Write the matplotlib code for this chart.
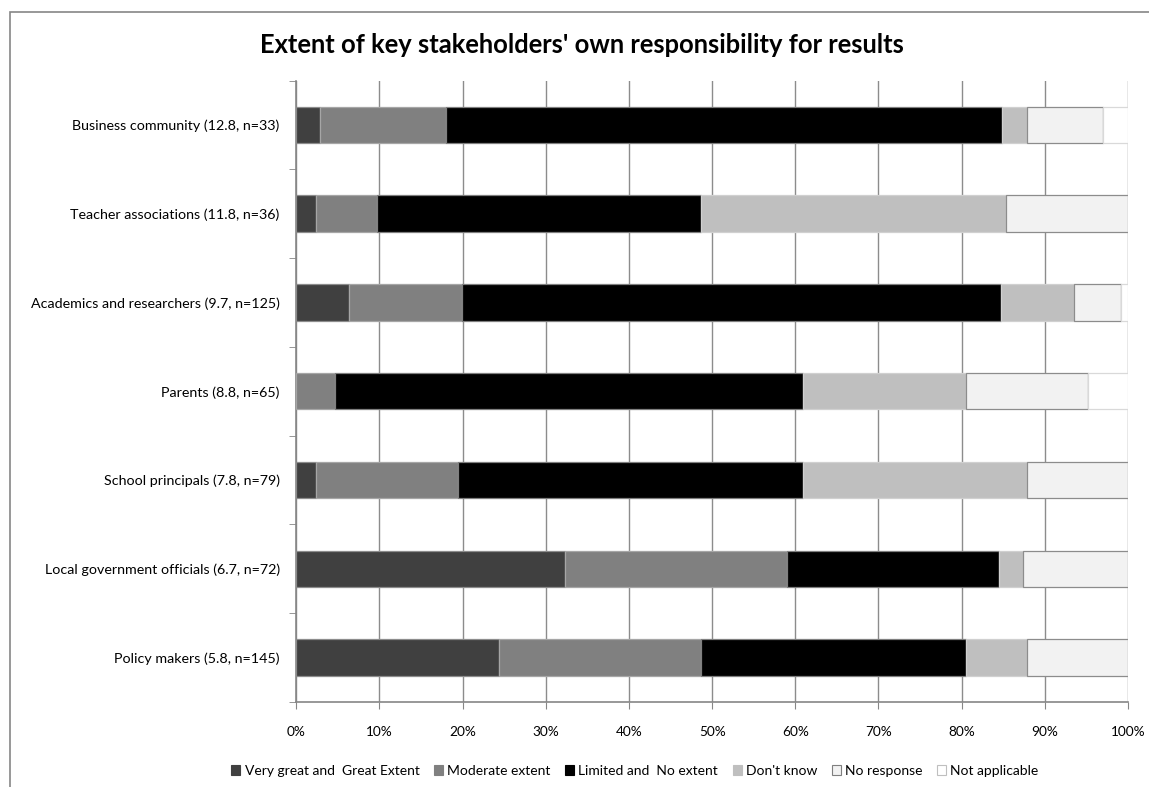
import matplotlib
matplotlib.use("Agg")
import matplotlib.pyplot as plt
from matplotlib.patches import Rectangle, Patch
import numpy as np

plt.rcParams['font.family'] = ['Lato', 'DejaVu Sans']

categories = [
    "Business community (12.8, n=33)",
    "Teacher associations (11.8, n=36)",
    "Academics and researchers (9.7, n=125)",
    "Parents (8.8, n=65)",
    "School principals (7.8, n=79)",
    "Local government officials (6.7, n=72)",
    "Policy makers (5.8, n=145)",
]
series_names = ["Very great and  Great Extent", "Moderate extent", "Limited and  No extent",
                "Don't know", "No response", "Not applicable"]
very_great = [2.9, 2.4, 6.3, 0.0, 2.4, 32.3, 24.4]
moderate = [15.1, 7.3, 13.6, 4.7, 17.0, 26.7, 24.3]
limited = [66.8, 39.0, 64.8, 56.2, 41.5, 25.5, 31.8]
dont_know = [3.1, 36.6, 8.8, 19.6, 26.9, 2.9, 7.3]
no_response = [9.1, 14.7, 5.7, 14.7, 12.2, 12.6, 12.2]
not_applicable = [3.0, 0.0, 0.8, 4.8, 0.0, 0.0, 0.0]
xtick_labels = ["0%", "10%", "20%", "30%", "40%", "50%", "60%", "70%", "80%", "90%", "100%"]

series = [very_great, moderate, limited, dont_know, no_response, not_applicable]
facecolors = ["#404040", "#808080", "#000000", "#BFBFBF", "#F2F2F2", "#FFFFFF"]
edgecolors = ["#8C8C8C", "#A6A6A6", "#7F7F7F", "#D0D0D0", "#8C8C8C", "#D9D9D9"]

W, H = 1149, 787
fig = plt.figure(figsize=(W / 100, H / 100), dpi=100)
ax = fig.add_axes([296.3 / W, 1 - 702 / H, (1128 - 296.3) / W, (702 - 80.5) / H])

# outer chart border
fig.patches.append(Rectangle((10 / W, -0.1), 1.2, 1.1 - 12 / H, transform=fig.transFigure,
                             fill=False, edgecolor="#868686", linewidth=1.2, zorder=0))

y = np.arange(len(categories))
left = np.zeros(len(categories))
for vals, fc, ec, name in zip(series, facecolors, edgecolors, series_names):
    v = np.array(vals)
    ax.barh(y, v, left=left, height=0.41, color=fc, edgecolor=ec, linewidth=0.9, label=name, zorder=3)
    left += v

ax.set_xlim(0, 100)
ax.set_ylim(len(categories) - 0.5, -0.5)
ax.set_xticks(np.arange(0, 101, 10))
ax.set_xticklabels(xtick_labels, fontsize=9.8)
ax.set_yticks(y)
ax.set_yticklabels(categories, fontsize=10.3)
ax.set_yticks(np.arange(-0.5, len(categories), 1), minor=True)
ax.tick_params(axis='y', which='major', length=0, pad=12)
ax.tick_params(axis='y', which='minor', length=5, color="#868686", direction='out')
ax.tick_params(axis='x', length=5, color="#868686", direction='out', pad=12)
ax.xaxis.grid(True, color="#8C8C8C", linewidth=1.0, zorder=0)
ax.set_axisbelow(True)
for s in ["top", "right"]:
    ax.spines[s].set_visible(False)
for s in ["left", "bottom"]:
    ax.spines[s].set_color("#868686")
    ax.spines[s].set_linewidth(1.2)

fig.text(581.5 / W, 1 - 45 / H, "Extent of key stakeholders' own responsibility for results",
         ha="center", va="center", fontsize=18.4, fontweight="bold")

handles = [Patch(facecolor=fc, edgecolor=ec, linewidth=0.8) for fc, ec in zip(facecolors, ["#404040", "#808080", "#000000", "#BFBFBF", "#7F7F7F", "#BFBFBF"])]
fig.legend(handles, series_names, loc="center", bbox_to_anchor=(635 / W, 1 - 771 / H), ncol=6,
           frameon=False, fontsize=10, handlelength=0.65, handleheight=0.65, handletextpad=0.3,
           columnspacing=1.05)

fig.savefig("out.png", dpi=100)
